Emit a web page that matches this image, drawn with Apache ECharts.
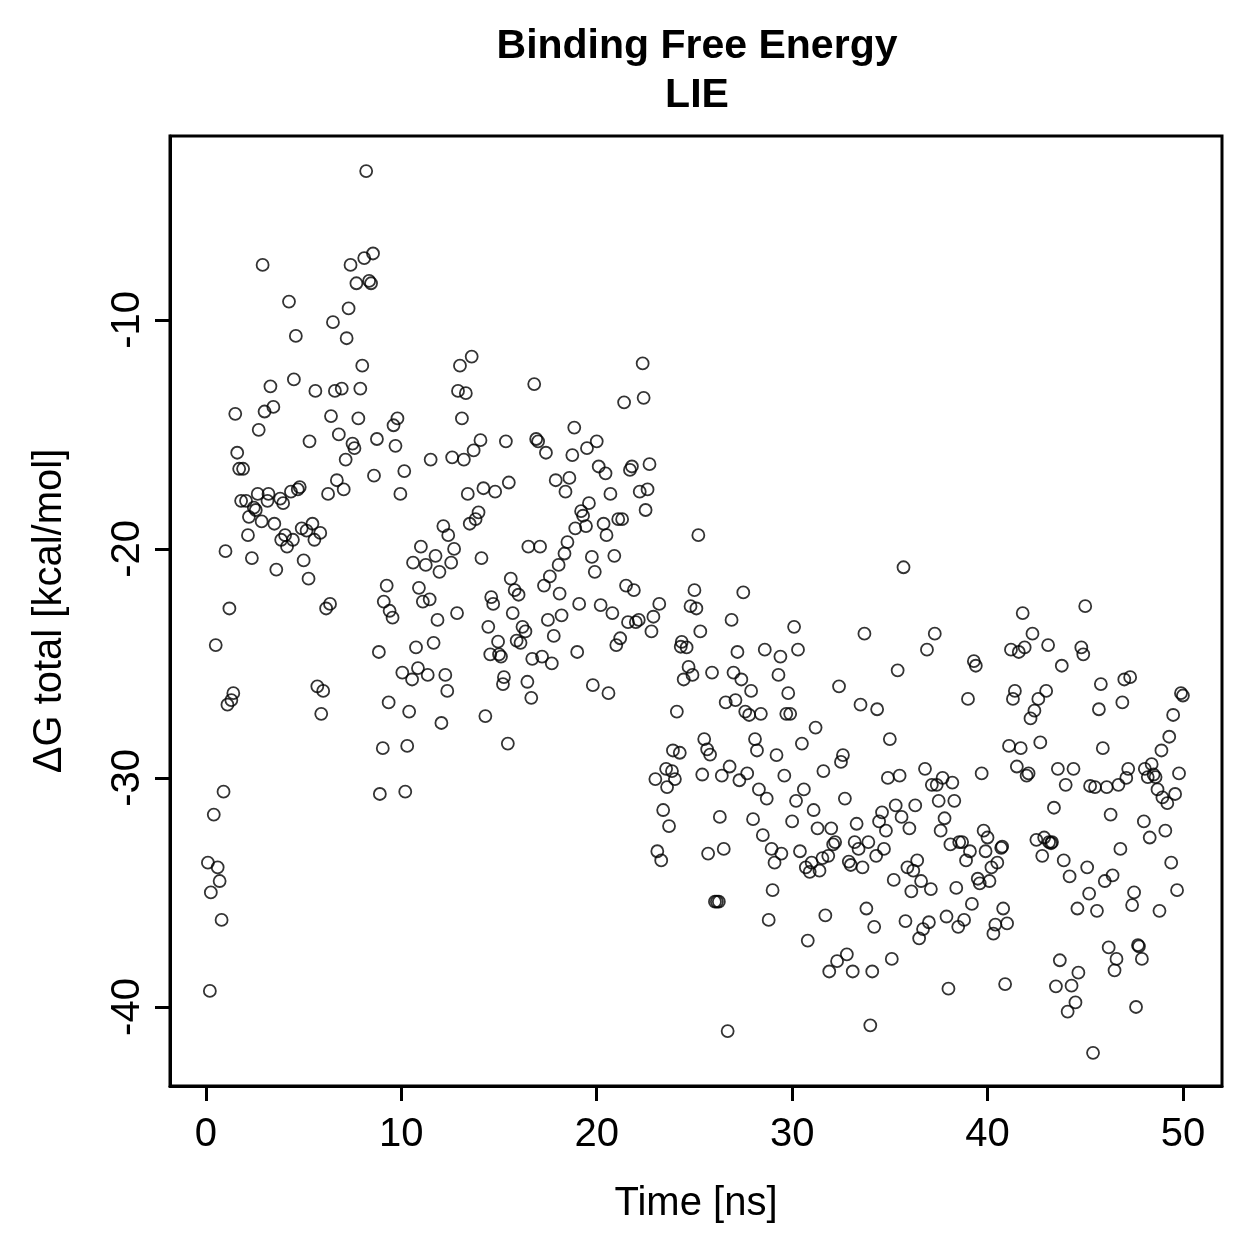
<!DOCTYPE html>
<html>
<head>
<meta charset="utf-8">
<script src="https://cdn.jsdelivr.net/npm/echarts@6/dist/echarts.min.js"></script>
<style>
  html, body { margin: 0; padding: 0; background: #fff; }
  #lie_scatter { width: 1259px; height: 1259px; }
</style>
</head>
<body>
<div id="lie_scatter"></div>
<script>
// [time (ns), dG total (kcal/mol)], split by 10 ns stretch
var run0to10 = [
  [0.1,-33.7],[0.2,-39.3],[0.25,-35.0],[0.4,-31.6],[0.5,-24.2],[0.6,-33.9],[0.7,-34.5],[0.8,-36.2],[0.9,-30.6],[1.0,-20.1],
  [1.1,-26.8],[1.2,-22.6],[1.3,-26.6],[1.4,-26.3],[1.5,-14.1],[1.6,-15.8],[1.7,-16.5],[1.8,-17.9],[1.9,-16.5],[2.05,-17.9],
  [2.15,-19.4],[2.2,-18.6],[2.35,-20.4],[2.45,-18.2],[2.55,-18.3],[2.65,-17.6],[2.7,-14.8],[2.85,-18.8],[2.9,-7.6],[3.0,-14.0],
  [3.15,-17.9],[3.2,-17.6],[3.3,-12.9],[3.45,-13.8],[3.5,-18.9],[3.6,-20.9],[3.8,-17.8],[3.85,-19.6],[3.95,-18.0],[4.05,-19.4],
  [4.15,-19.9],[4.25,-9.2],[4.35,-17.5],[4.45,-19.6],[4.5,-12.6],[4.6,-10.7],[4.7,-17.4],[4.8,-17.3],[4.9,-19.1],[5.0,-20.5],
  [5.15,-19.2],[5.25,-21.3],[5.3,-15.3],[5.45,-18.9],[5.55,-19.6],[5.6,-13.1],[5.7,-26.0],[5.85,-19.3],[5.9,-27.2],[6.0,-26.2],
  [6.15,-22.6],[6.25,-17.6],[6.35,-22.4],[6.5,-10.1],[6.4,-14.2],[6.6,-13.1],[6.8,-15.0],[6.7,-17.0],[6.95,-13.0],[7.05,-17.4],
  [7.15,-16.1],[7.2,-10.8],[7.3,-9.5],[7.4,-7.6],[7.5,-15.4],[7.6,-15.6],[7.7,-8.4],[7.8,-14.3],[7.9,-13.0],[8.0,-12.0],
  [8.1,-7.3],[8.2,-3.5],[8.35,-8.3],[8.45,-8.4],[8.55,-7.1],[8.6,-16.8],[8.75,-15.2],[8.85,-24.5],[8.9,-30.7],[9.05,-28.7],
  [9.1,-22.3],[9.25,-21.6],[9.35,-26.7],[9.4,-22.7],[9.55,-23.0],[9.6,-14.6],[9.7,-15.5],[9.8,-14.3],[9.95,-17.6]
];
var run10to20 = [
  [10.05,-25.4],[10.15,-16.6],[10.2,-30.6],[10.3,-28.6],[10.4,-27.1],[10.55,-25.7],[10.6,-20.6],[10.75,-24.3],[10.85,-25.2],[10.9,-21.7],
  [11.0,-19.9],[11.1,-22.3],[11.25,-20.7],[11.35,-25.5],[11.45,-22.2],[11.5,-16.1],[11.65,-24.1],[11.75,-20.3],[11.85,-23.1],[11.95,-21.0],
  [12.05,-27.6],[12.15,-19.0],[12.25,-25.5],[12.35,-26.2],[12.4,-19.4],[12.55,-20.6],[12.6,-16.0],[12.7,-20.0],[12.85,-22.8],[12.9,-13.1],
  [13.0,-12.0],[13.1,-14.3],[13.2,-16.1],[13.3,-13.2],[13.4,-17.6],[13.5,-18.9],[13.6,-11.6],[13.7,-15.7],[13.8,-18.7],[13.95,-18.4],
  [14.05,-15.25],[14.2,-17.35],[14.1,-20.4],[14.3,-27.3],[14.45,-23.4],[14.55,-24.6],[14.6,-22.1],[14.7,-22.4],[14.8,-17.5],[14.95,-24.05],
  [15.0,-24.6],[15.1,-24.7],[15.25,-25.6],[15.2,-25.9],[15.35,-15.3],[15.45,-28.5],[15.5,-17.1],[15.6,-21.3],[15.7,-22.8],[15.8,-21.8],
  [15.9,-24.0],[16.0,-22.0],[16.1,-24.1],[16.2,-23.4],[16.35,-23.6],[16.45,-25.8],[16.5,-19.9],[16.8,-12.8],[16.65,-26.5],[16.7,-24.8],
  [16.9,-15.2],[17.0,-15.3],[17.1,-19.9],[17.2,-24.7],[17.3,-21.6],[17.4,-15.8],[17.5,-23.1],[17.6,-21.2],[17.7,-25.0],[17.8,-23.8],
  [17.9,-17.0],[18.05,-20.7],[18.1,-21.95],[18.2,-22.9],[18.35,-20.2],[18.4,-17.5],[18.5,-19.7],[18.6,-16.9],[18.75,-15.9],[18.85,-14.7],
  [18.9,-19.1],[19.0,-24.5],[19.1,-22.4],[19.2,-18.35],[19.3,-18.55],[19.45,-19.0],[19.5,-15.6],[19.6,-18.0],[19.75,-20.35],[19.8,-25.95],
  [19.9,-21.0],[20.0,-15.3]
];
var run20to30 = [
  [20.1,-16.4],[20.2,-22.45],[20.35,-18.9],[20.45,-16.7],[20.5,-19.4],[20.6,-26.3],[20.7,-17.6],[20.8,-22.8],[20.9,-20.3],[21.0,-24.2],
  [21.1,-18.7],[21.2,-23.9],[21.3,-18.7],[21.4,-13.6],[21.5,-21.6],[21.6,-23.2],[21.7,-16.55],[21.8,-16.4],[21.9,-21.8],[22.0,-23.2],
  [22.15,-23.1],[22.2,-17.5],[22.35,-11.9],[22.4,-13.4],[22.5,-18.3],[22.6,-17.4],[22.7,-16.3],[22.8,-23.6],[22.9,-22.96],[23.0,-30.05],
  [23.1,-33.2],[23.2,-22.4],[23.3,-33.6],[23.4,-31.4],[23.55,-29.6],[23.6,-30.4],[23.7,-32.1],[23.85,-29.7],[23.9,-28.8],[24.0,-30.05],
  [24.1,-27.1],[24.25,-28.9],[24.3,-24.27],[24.35,-24.06],[24.45,-25.7],[24.6,-24.3],[24.7,-25.15],[24.8,-22.5],[24.9,-25.5],[25.0,-21.8],
  [25.1,-22.6],[25.2,-19.4],[25.3,-23.6],[25.4,-29.85],[25.5,-28.3],[25.65,-28.75],[25.7,-33.3],[25.8,-28.98],[25.9,-25.4],[26.05,-35.4],
  [26.15,-35.4],[26.25,-35.4],[26.3,-31.7],[26.4,-29.9],[26.5,-33.1],[26.6,-26.7],[26.7,-41.05],[26.8,-29.5],[26.9,-23.1],[27.0,-25.4],
  [27.1,-26.6],[27.2,-24.5],[27.3,-30.1],[27.4,-25.7],[27.5,-21.9],[27.6,-27.1],[27.7,-29.8],[27.8,-27.25],[27.9,-26.2],[28.0,-31.8],
  [28.1,-28.3],[28.2,-28.8],[28.3,-30.5],[28.4,-27.2],[28.5,-32.5],[28.6,-24.4],[28.7,-30.9],[28.8,-36.2],[28.95,-33.1],[29.0,-34.9],
  [29.1,-33.7],[29.2,-29.0],[29.3,-25.5],[29.4,-24.7],[29.45,-33.3],[29.6,-29.9],[29.7,-27.2],[29.8,-26.3],[29.9,-27.2],[30.0,-31.9]
];
var run30to40 = [
  [30.1,-23.4],[30.2,-31.0],[30.3,-24.4],[30.4,-33.2],[30.5,-28.5],[30.6,-30.5],[30.7,-33.9],[30.8,-37.1],[30.9,-34.1],[31.0,-33.7],
  [31.1,-31.4],[31.2,-27.8],[31.3,-32.2],[31.4,-34.05],[31.55,-33.5],[31.6,-29.7],[31.7,-36.0],[31.85,-33.4],[31.9,-38.45],[32.0,-32.2],
  [32.1,-32.9],[32.2,-32.8],[32.3,-38.0],[32.4,-26.0],[32.5,-29.3],[32.6,-29.0],[32.7,-30.9],[32.8,-37.7],[32.9,-33.65],[33.0,-33.8],
  [33.1,-38.45],[33.2,-32.8],[33.3,-32.0],[33.4,-33.1],[33.5,-26.8],[33.6,-33.9],[33.7,-23.7],[33.8,-35.7],[33.9,-32.8],[34.0,-40.8],
  [34.1,-38.45],[34.2,-36.5],[34.3,-33.4],[34.35,-27.0],[34.45,-31.9],[34.6,-31.5],[34.7,-33.1],[34.8,-32.3],[34.9,-30.0],[35.0,-28.3],
  [35.1,-37.9],[35.2,-34.45],[35.3,-31.2],[35.4,-25.3],[35.5,-29.9],[35.6,-31.7],[35.7,-20.8],[35.8,-36.25],[35.9,-33.9],[36.0,-32.2],
  [36.1,-34.95],[36.2,-34.05],[36.3,-31.2],[36.4,-33.6],[36.5,-37.0],[36.6,-34.5],[36.7,-36.6],[36.8,-29.6],[36.9,-24.4],[37.0,-36.3],
  [37.1,-34.85],[37.15,-30.3],[37.3,-23.7],[37.4,-30.3],[37.5,-31.0],[37.6,-32.3],[37.7,-30.0],[37.8,-31.76],[37.9,-36.05],[38.0,-39.2],
  [38.1,-32.9],[38.2,-30.2],[38.3,-31.0],[38.4,-34.8],[38.5,-36.5],[38.55,-32.8],[38.7,-32.8],[38.8,-36.2],[38.9,-33.6],[39.0,-26.55],
  [39.1,-33.2],[39.2,-35.5],[39.3,-24.9],[39.4,-25.1],[39.5,-34.4],[39.6,-34.6],[39.7,-29.8],[39.8,-32.3],[39.9,-33.2],[40.0,-32.6]
];
var run40to50 = [
  [40.1,-34.5],[40.2,-33.9],[40.3,-36.8],[40.4,-36.4],[40.5,-33.7],[40.7,-33.05],[40.75,-33.0],[40.8,-35.7],[40.9,-39.0],[41.0,-36.35],
  [41.1,-28.6],[41.2,-24.4],[41.3,-26.55],[41.4,-26.2],[41.5,-29.5],[41.6,-24.5],[41.7,-28.7],[41.8,-22.8],[41.9,-24.3],[42.0,-29.9],
  [42.1,-29.8],[42.2,-27.4],[42.3,-23.7],[42.4,-27.06],[42.5,-32.7],[42.6,-26.55],[42.7,-28.45],[42.8,-33.4],[42.9,-32.6],[43.0,-26.2],
  [43.1,-24.2],[43.15,-32.8],[43.25,-32.85],[43.3,-32.8],[43.4,-31.3],[43.5,-39.1],[43.6,-29.6],[43.7,-37.96],[43.8,-25.1],[43.9,-33.6],
  [44.0,-30.3],[44.1,-40.2],[44.2,-34.3],[44.3,-39.07],[44.4,-29.6],[44.5,-39.8],[44.6,-35.7],[44.65,-38.5],[44.8,-24.3],[44.9,-24.6],
  [45.0,-22.5],[45.1,-33.9],[45.2,-35.05],[45.25,-30.35],[45.4,-42.0],[45.5,-30.4],[45.6,-35.8],[45.7,-27.0],[45.8,-25.9],[45.9,-28.7],
  [46.0,-34.5],[46.1,-30.4],[46.2,-37.4],[46.3,-31.6],[46.4,-34.25],[46.5,-38.4],[46.6,-37.9],[46.7,-30.3],[46.8,-33.1],[46.9,-26.7],
  [47.0,-25.7],[47.1,-30.0],[47.2,-29.6],[47.3,-25.6],[47.4,-35.55],[47.5,-35.0],[47.6,-40.0],[47.7,-37.3],[47.75,-37.35],[47.9,-37.9],
  [48.0,-31.9],[48.05,-29.6],[48.2,-29.96],[48.3,-32.6],[48.4,-29.4],[48.5,-29.85],[48.6,-29.96],[48.7,-30.5],[48.8,-35.8],[48.9,-28.8],
  [48.95,-30.85],[49.1,-32.3],[49.2,-31.1],[49.3,-28.2],[49.4,-33.7],[49.5,-27.25],[49.6,-30.7],[49.7,-34.9],[49.8,-29.8],[49.9,-26.3],[50.0,-26.4]
];

var xTicks = [0, 10, 20, 30, 40, 50];
var yTicks = [-40, -30, -20, -10];
var titleLines = ['Binding Free Energy', 'LIE'];

var fontName = '"Liberation Sans", Arial, Helvetica, sans-serif';
var allPoints = run0to10.concat(run10to20, run20to30, run30to40, run40to50);

var myChart = echarts.init(document.getElementById('lie_scatter'), null, { renderer: 'canvas' });
var options = {
    animation: false,
    backgroundColor: '#fff',
    graphic: [
        {
            type: 'text', x: 697, y: 47,
            style: { text: titleLines[0], fill: '#000', font: 'bold 41px ' + fontName, textAlign: 'center', textVerticalAlign: 'middle' }
        },
        {
            type: 'text', x: 697, y: 96,
            style: { text: titleLines[1], fill: '#000', font: 'bold 41px ' + fontName, textAlign: 'center', textVerticalAlign: 'middle' }
        }
    ],
    grid: {
        left: 170, top: 136, width: 1052, height: 950,
        show: true,
        borderColor: '#000',
        borderWidth: 3,
        backgroundColor: 'transparent',
        outerBoundsMode: 'none'
    },
    xAxis: {
        type: 'value',
        min: -1.84,
        max: 52.0,
        name: 'Time [ns]',
        nameLocation: 'middle',
        nameGap: 98,
        nameTextStyle: { color: '#000', fontSize: 40, fontFamily: fontName },
        splitLine: { show: false },
        axisLine: { show: true, onZero: false, lineStyle: { color: '#000', width: 3 } },
        axisTick: { show: true, length: 15, customValues: xTicks, lineStyle: { color: '#000', width: 3 } },
        axisLabel: { show: true, customValues: xTicks, margin: 29, color: '#000', fontSize: 40, fontFamily: fontName }
    },
    yAxis: {
        type: 'value',
        min: -43.45,
        max: -1.97,
        name: '\u0394G total [kcal/mol]',
        nameLocation: 'middle',
        nameRotate: 90,
        nameGap: 100,
        nameTextStyle: { color: '#000', fontSize: 40, fontFamily: fontName },
        splitLine: { show: false },
        axisLine: { show: true, onZero: false, lineStyle: { color: '#000', width: 3 } },
        axisTick: { show: true, length: 15, customValues: yTicks, lineStyle: { color: '#000', width: 3 } },
        axisLabel: { show: true, customValues: yTicks, rotate: 90, margin: 22, color: '#000', fontSize: 40, fontFamily: fontName }
    },
    series: [
        {
            name: 'LIE',
            type: 'scatter',
            symbol: 'circle',
            symbolSize: 12,
            data: allPoints,
            itemStyle: {
                color: 'rgba(0,0,0,0)',
                borderColor: '#000',
                borderWidth: 1.8
            },
            emphasis: { disabled: true }
        }
    ]
};
myChart.setOption(options);
</script>
</body>
</html>
